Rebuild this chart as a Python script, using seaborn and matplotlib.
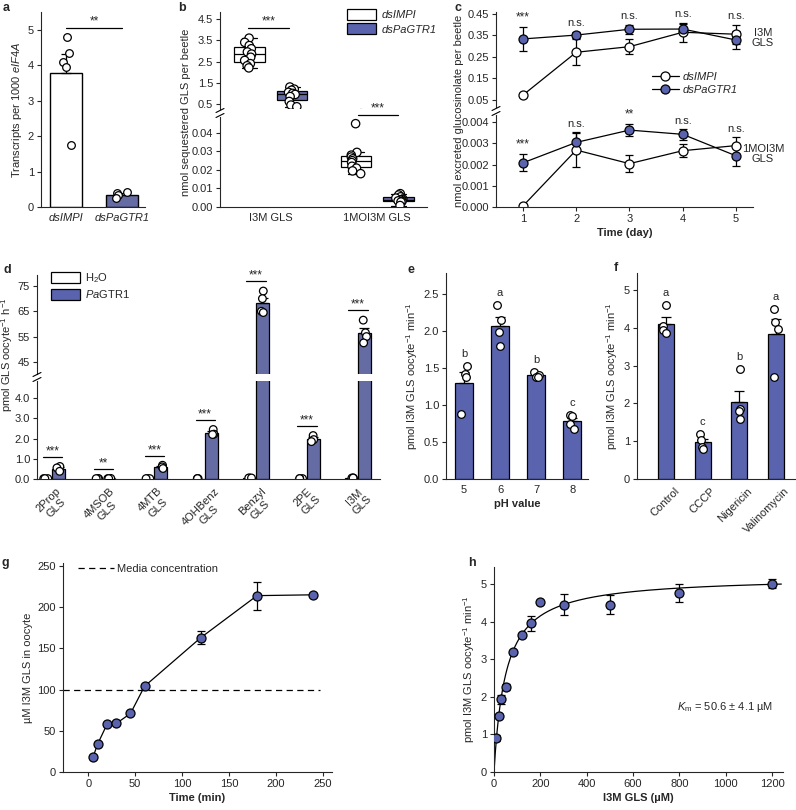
import numpy as np
import pandas as pd
import matplotlib.pyplot as plt
import seaborn as sns
from matplotlib.patches import Patch
from matplotlib.lines import Line2D
from matplotlib.transforms import ScaledTranslation

# === Data ===
BLUE = '#5A64AE'

# a: transcripts per 1000 eIF4A
a_groups = ['dsIMPI', 'dsPaGTR1']
a_dsIMPI = [4.8, 4.35, 4.1, 3.97, 1.75]
a_dsPaGTR1 = [0.43, 0.40, 0.33, 0.25]

# b: sequestered GLS per beetle
b_gls = ['I3M GLS', '1MOI3M GLS']
b_treat = ['dsIMPI', 'dsPaGTR1']
b_I3M_dsIMPI = [3.6, 3.4, 3.25, 3.1, 2.95, 2.85, 2.7, 2.55, 2.4, 2.3, 2.2]
b_I3M_dsPaGTR1 = [1.3, 1.2, 1.15, 1.05, 1.0, 0.95, 0.85, 0.62, 0.45, 0.37]
b_MOI_dsIMPI = [0.045, 0.0295, 0.028, 0.027, 0.026, 0.025, 0.024, 0.022, 0.021, 0.0195, 0.018]
b_MOI_dsPaGTR1 = [0.0072, 0.0065, 0.0055, 0.0048, 0.0043, 0.004, 0.0037, 0.0033, 0.003, 0.0027, 0.0008]

# c: excreted glucosinolate (mean, sem)
c_days = [1, 2, 3, 4, 5]
c_i3m_dsIMPI = [0.073, 0.272, 0.298, 0.365, 0.356]
c_i3m_dsIMPI_err = [0.01, 0.06, 0.035, 0.045, 0.045]
c_i3m_dsPaGTR1 = [0.334, 0.352, 0.379, 0.38, 0.329]
c_i3m_dsPaGTR1_err = [0.055, 0.015, 0.022, 0.022, 0.04]
c_moi_dsIMPI = [0.00005, 0.00268, 0.00204, 0.00265, 0.00289]
c_moi_dsIMPI_err = [0.00005, 0.0008, 0.0004, 0.0003, 0.0004]
c_moi_dsPaGTR1 = [0.00208, 0.00304, 0.00362, 0.00342, 0.00241]
c_moi_dsPaGTR1_err = [0.0004, 0.00047, 0.0003, 0.00025, 0.0005]
c_sig_i3m = ['***', 'n.s.', 'n.s.', 'n.s.', 'n.s.']
c_sig_moi = ['***', 'n.s.', '**', 'n.s.', 'n.s.']

# d: uptake of GLS in oocytes
d_substrates = ['2Prop\nGLS', '4MSOB\nGLS', '4MTB\nGLS', '4OHBenz\nGLS', 'Benzyl\nGLS', '2PE\nGLS', 'I3M\nGLS']
d_h2o = [[0.02, 0.02, 0.02], [0.02, 0.02, 0.02], [0.02, 0.02, 0.02], [0.02, 0.02, 0.02],
         [0.05, 0.05, 0.05], [0.02, 0.02, 0.02], [0.05, 0.05, 0.05]]
d_pagtr1 = [[0.62, 0.55, 0.38], [0.03, 0.02, 0.02], [0.68, 0.6, 0.52], [2.45, 2.22, 2.2],
            [73.0, 70.0, 65.0, 64.5], [2.15, 1.95, 1.85], [61.5, 56.5, 55.0, 52.5]]
d_sig = ['***', '**', '***', '***', '***', '***', '***']

# e: pH dependence
e_ph = ['5', '6', '7', '8']
e_rates = [[1.52, 1.42, 1.37, 0.88], [2.35, 2.14, 1.98, 1.8], [1.44, 1.41, 1.38, 1.37], [0.87, 0.85, 0.74, 0.67]]
e_letters = ['b', 'a', 'b', 'c']

# f: ionophores
f_treat = ['Control', 'CCCP', 'Nigericin', 'Valinomycin']
f_rates = [[4.6, 4.05, 3.95, 3.85], [1.2, 1.02, 0.85, 0.8], [2.9, 1.85, 1.8, 1.6], [4.5, 4.15, 3.98, 2.7]]
f_letters = ['a', 'c', 'b', 'a']

# g: time course
g_time = [5, 10, 20, 30, 45, 60, 120, 180, 240]
g_conc = [18, 34, 58, 59, 71, 104, 163, 214, 215]
g_err = [0, 0, 0, 0, 0, 0, 8, 17, 2]
g_media = 100

# h: kinetics
h_conc = [10, 20, 30, 50, 80, 120, 160, 200, 300, 500, 800, 1200]
h_rate = [0.91, 1.48, 1.93, 2.27, 3.18, 3.63, 3.96, 4.52, 4.45, 4.45, 4.76, 5.0]
h_err = [0.08, 0.05, 0.12, 0.08, 0.05, 0.05, 0.2, 0.03, 0.28, 0.25, 0.24, 0.12]
h_vmax = 5.2
h_km = 50.6

# === Style ===
FS = 8
sns.set_style('ticks')
plt.rcParams['font.family'] = ['Liberation Sans', 'DejaVu Sans']
plt.rcParams.update({
    'mathtext.fontset': 'custom',
    'mathtext.rm': 'Liberation Sans',
    'mathtext.it': 'Liberation Sans:italic',
    'mathtext.bf': 'Liberation Sans:bold',
    'font.size': FS,
    'axes.linewidth': 0.8,
    'axes.labelsize': FS,
    'xtick.labelsize': FS, 'ytick.labelsize': FS,
    'xtick.major.width': 0.8, 'ytick.major.width': 0.8,
    'xtick.major.size': 3, 'ytick.major.size': 3,
    'xtick.major.pad': 2, 'ytick.major.pad': 2,
    'axes.labelpad': 3,
})

W, H = 796, 810
fig = plt.figure(figsize=(W / 100, H / 100), dpi=100)


def fx(px):
    return px / W


def fy(py):
    return 1 - py / H


def add_ax(l, t, r, b):
    ax = fig.add_axes([fx(l), fy(b), (r - l) / W, (b - t) / H])
    sns.despine(ax=ax)
    return ax


def draw_break(x_px, y_px):
    for dy in (-2.5, 2.5):
        fig.add_artist(Line2D([fx(x_px - 4), fx(x_px + 4)],
                              [fy(y_px + dy + 2), fy(y_px + dy - 2)], color='black', lw=0.8))


def up_errors(ax, df, cat, val, order, pos):
    st = df.groupby(cat)[val].agg(['mean', 'sem']).reindex(order)
    ax.errorbar(pos, st['mean'], yerr=[np.zeros(len(st)), st['sem']], fmt='none',
                ecolor='black', elinewidth=0.9, capsize=3.5, capthick=0.9, zorder=3)
    return st


def long_df(cats, values, cat_name, val_name):
    rows = [(c, v) for c, vs in zip(cats, values) for v in vs]
    return pd.DataFrame(rows, columns=[cat_name, val_name])


def panel_letter(x, y, s):
    fig.text(fx(x), fy(y), s, fontsize=9, fontweight='bold', ha='left', va='center')


np.random.seed(3)
pt_kw = dict(color='white', edgecolor='black', linewidth=0.9, size=5.5, zorder=4)

# === a ===
a_df = long_df(a_groups, [a_dsIMPI, a_dsPaGTR1], 'group', 'value')
ax = add_ax(41, 12, 145, 207)
sns.barplot(data=a_df, x='group', y='value', hue='group', order=a_groups, hue_order=a_groups,
            palette=['white', BLUE], errorbar=None, width=0.57, edgecolor='black', linewidth=1,
            legend=False, ax=ax)
up_errors(ax, a_df, 'group', 'value', a_groups, range(2))
sns.stripplot(data=a_df, x='group', y='value', order=a_groups, jitter=0.12, ax=ax, **pt_kw)
ax.set_xlim(-0.45, 1.41)
ax.set_ylim(0, 5.51)
ax.set_yticks(range(6))
ax.set_xticks(range(2))
ax.set_xticklabels(a_groups, style='italic')
ax.tick_params(axis='x', length=0, pad=4)
ax.set_xlabel('')
ax.set_ylabel('Transcripts per 1000 $\\mathit{eIF4A}$')
ax.plot([0, 1], [5.06, 5.06], color='black', lw=0.9)
ax.text(0.5, 5.08, '**', ha='center', va='bottom', fontsize=8.5)
panel_letter(3, 8, 'a')

# === b ===
b_df = pd.concat([
    pd.DataFrame({'gls': g, 'treatment': t, 'amount': v})
    for g, t, v in [(b_gls[0], b_treat[0], b_I3M_dsIMPI), (b_gls[0], b_treat[1], b_I3M_dsPaGTR1),
                    (b_gls[1], b_treat[0], b_MOI_dsIMPI), (b_gls[1], b_treat[1], b_MOI_dsPaGTR1)]
], ignore_index=True)
ax_bt = add_ax(220, 12, 427, 109)
ax_bb = add_ax(220, 117, 427, 207)
for ax in (ax_bt, ax_bb):
    sns.boxplot(data=b_df, x='gls', y='amount', hue='treatment', order=b_gls, hue_order=b_treat,
                palette={'dsIMPI': 'white', 'dsPaGTR1': BLUE}, gap=0.28, showfliers=False,
                linecolor='black', linewidth=0.9, legend=False, ax=ax)
    sns.stripplot(data=b_df, x='gls', y='amount', hue='treatment', order=b_gls, hue_order=b_treat,
                  palette={'dsIMPI': 'white', 'dsPaGTR1': 'white'}, dodge=True, jitter=0.1,
                  edgecolor='black', linewidth=0.9, size=6, legend=False, zorder=4, ax=ax)
    ax.set_xlim(-0.48, 1.47)
    ax.set_xlabel('')
    ax.set_ylabel('')
ax_bt.set_ylim(0.265, 4.83)
ax_bt.set_yticks([0.5, 1.5, 2.5, 3.5, 4.5])
ax_bt.spines['bottom'].set_visible(False)
ax_bt.tick_params(axis='x', bottom=False, labelbottom=False)
ax_bb.set_ylim(0, 0.0486)
ax_bb.set_yticks([0, 0.01, 0.02, 0.03, 0.04])
ax_bb.yaxis.set_major_formatter('{x:.2f}')
ax_bb.set_xticks(range(2))
ax_bb.set_xticklabels(b_gls)
ax_bb.tick_params(axis='x', length=0, pad=4)
draw_break(220, 113)
fig.text(fx(186), fy(112), 'nmol sequestered GLS per beetle', rotation=90, ha='center', va='center')
ax_bt.plot([-0.22, 0.17], [4.08, 4.08], color='black', lw=0.9)
ax_bt.text(-0.02, 4.1, '***', ha='center', va='bottom', fontsize=8.5)
ax_bb.plot([0.82, 1.2], [0.0497, 0.0497], color='black', lw=0.9, clip_on=False)
ax_bb.text(1.01, 0.0499, '***', ha='center', va='bottom', fontsize=8.5, clip_on=False)
ax_bt.legend(handles=[Patch(facecolor='white', edgecolor='black', lw=0.9, label='dsIMPI'),
                      Patch(facecolor=BLUE, edgecolor='black', lw=0.9, label='dsPaGTR1')],
             loc='upper left', bbox_to_anchor=(fx(347), fy(9)), bbox_transform=fig.transFigure,
             frameon=False, prop={'style': 'italic', 'size': FS}, handlelength=2.6, handleheight=1.1,
             handletextpad=0.5, labelspacing=0.3, borderpad=0, borderaxespad=0)
panel_letter(178, 8, 'b')

# === c ===
ax_ct = add_ax(496, 12, 753, 107)
ax_cb = add_ax(496, 115, 753, 207)
c_sets = [
    (ax_ct, c_i3m_dsIMPI, c_i3m_dsIMPI_err, c_i3m_dsPaGTR1, c_i3m_dsPaGTR1_err, c_sig_i3m),
    (ax_cb, c_moi_dsIMPI, c_moi_dsIMPI_err, c_moi_dsPaGTR1, c_moi_dsPaGTR1_err, c_sig_moi),
]
for ax, w, we, b, be, sig in c_sets:
    for vals, errs, face in ((w, we, 'white'), (b, be, BLUE)):
        ax.errorbar(c_days, vals, yerr=errs, fmt='none', ecolor='black', elinewidth=0.9,
                    capsize=2.8, capthick=0.9, zorder=1.5)
        sns.lineplot(x=c_days, y=vals, color='black', lw=0.9, marker='o', markersize=6.5,
                     markerfacecolor=face, markeredgecolor='black', markeredgewidth=0.9, ax=ax)
    tops = np.maximum(np.add(w, we), np.add(b, be))
    for d, t, s in zip(c_days, tops, sig):
        ax.annotate(s, (d, t), xytext=(0, 2.5), textcoords='offset points', ha='center', va='bottom',
                    fontsize=FS if s == 'n.s.' else 8.5, annotation_clip=False)
    ax.set_xlim(0.493, 5.32)
ax_ct.set_ylim(0.0174, 0.4593)
ax_ct.set_yticks([0.05, 0.15, 0.25, 0.35, 0.45])
ax_ct.yaxis.set_major_formatter('{x:.2f}')
ax_ct.spines['bottom'].set_visible(False)
ax_ct.tick_params(axis='x', bottom=False, labelbottom=False)
ax_cb.set_ylim(0, 0.00433)
ax_cb.set_yticks([0, 0.001, 0.002, 0.003, 0.004])
ax_cb.yaxis.set_major_formatter('{x:.3f}')
ax_cb.set_xticks(c_days)
ax_cb.set_xlabel('Time (day)', fontweight='bold')
draw_break(496, 111)
fig.text(fx(459), fy(111), 'nmol excreted glucosinolate per beetle', rotation=90, ha='center', va='center')
fig.text(fx(763), fy(38), 'I3M\nGLS', ha='center', va='center', linespacing=0.95)
fig.text(fx(763), fy(154), '1MOI3M\nGLS', ha='center', va='center', linespacing=0.95)
mk = dict(color='black', lw=0.9, marker='o', markersize=6.5, markeredgecolor='black', markeredgewidth=0.9)
ax_ct.legend(handles=[Line2D([], [], markerfacecolor='white', label='dsIMPI', **mk),
                      Line2D([], [], markerfacecolor=BLUE, label='dsPaGTR1', **mk)],
             loc='upper left', bbox_to_anchor=(fx(652), fy(72)), bbox_transform=fig.transFigure,
             frameon=False, prop={'style': 'italic', 'size': FS}, handlelength=2.4,
             handletextpad=0.4, labelspacing=0.3, borderpad=0, borderaxespad=0)
panel_letter(455, 8, 'c')

# === d ===
d_df = pd.concat([
    long_df(d_substrates, d_h2o, 'substrate', 'rate').assign(treatment='H2O'),
    long_df(d_substrates, d_pagtr1, 'substrate', 'rate').assign(treatment='PaGTR1'),
], ignore_index=True)
d_idx = {s: i for i, s in enumerate(d_substrates)}
d_df['pos'] = d_df['substrate'].map(d_idx) + np.where(d_df['treatment'] == 'H2O', -0.125, 0.125)
ax_dt = add_ax(37, 275, 380, 374)
ax_db = add_ax(37, 381, 380, 479)
d_pal = {'H2O': 'white', 'PaGTR1': BLUE}
for ax in (ax_dt, ax_db):
    sns.barplot(data=d_df, x='substrate', y='rate', hue='treatment', order=d_substrates,
                hue_order=['H2O', 'PaGTR1'], palette=d_pal, width=0.5, errorbar=None,
                edgecolor='black', linewidth=0.9, legend=False, ax=ax)
    up_errors(ax, d_df[d_df['treatment'] == 'PaGTR1'], 'substrate', 'rate', d_substrates,
              np.arange(len(d_substrates)) + 0.125)
    sns.stripplot(data=d_df, x='pos', y='rate', hue='treatment', native_scale=True, orient='x',
                  palette={'H2O': 'white', 'PaGTR1': 'white'}, jitter=0.2, edgecolor='black',
                  linewidth=0.9, size=5.5, legend=False, zorder=4, ax=ax)
    ax.set_xlim(-0.30, 6.43)
    ax.set_xlabel('')
    ax.set_ylabel('')
ax_dt.set_ylim(40.2, 79.35)
ax_dt.set_yticks([45, 55, 65, 75])
ax_dt.spines['bottom'].set_visible(False)
ax_dt.tick_params(axis='x', bottom=False, labelbottom=False)
ax_db.set_ylim(0, 4.85)
ax_db.set_yticks([0, 1, 2, 3, 4])
ax_db.yaxis.set_major_formatter('{x:.1f}')
ax_db.set_xticks(range(len(d_substrates)))
ax_db.set_xticklabels(d_substrates, rotation=45, ha='center', va='top', multialignment='center')
ax_db.tick_params(axis='x', length=0, pad=5)
d_tops = d_df.groupby('substrate')['rate'].max().reindex(d_substrates)
for i, (s, t) in enumerate(zip(d_sig, d_tops)):
    ax, off = (ax_dt, 4.0) if t > 40 else (ax_db, 0.45)
    ax.plot([i - 0.19, i + 0.19], [t + off, t + off], color='black', lw=0.9, clip_on=False)
    ax.text(i, t + off, s, ha='center', va='bottom', fontsize=8.5, clip_on=False)
draw_break(37, 377)
fig.text(fx(7), fy(355), 'pmol GLS oocyte$^{-1}$ h$^{-1}$', rotation=90, ha='center', va='center')
ax_dt.legend(handles=[Patch(facecolor='white', edgecolor='black', lw=0.9, label='H$_2$O'),
                      Patch(facecolor=BLUE, edgecolor='black', lw=0.9, label='$\\mathit{Pa}$GTR1')],
             loc='upper left', bbox_to_anchor=(fx(51), fy(271)), bbox_transform=fig.transFigure,
             frameon=False, prop={'size': FS}, handlelength=2.6, handleheight=1.1,
             handletextpad=0.5, labelspacing=0.3, borderpad=0, borderaxespad=0)
panel_letter(3, 270, 'd')


# === e and f ===
def letter_bar_panel(ax, cats, values, letters, width, cname):
    df = long_df(cats, values, cname, 'rate')
    sns.barplot(data=df, x=cname, y='rate', order=cats, color=BLUE, errorbar=None, width=width,
                edgecolor='black', linewidth=0.9, saturation=1, ax=ax)
    st = up_errors(ax, df, cname, 'rate', cats, range(len(cats)))
    sns.stripplot(data=df, x=cname, y='rate', order=cats, jitter=0.08, ax=ax, **pt_kw)
    tops = np.maximum(df.groupby(cname)['rate'].max().reindex(cats), st['mean'] + st['sem'])
    for i, (t, s) in enumerate(zip(tops, letters)):
        ax.annotate(s, (i, t), xytext=(0, 5), textcoords='offset points', ha='center', va='bottom')
    ax.tick_params(axis='x', length=0, pad=4)
    ax.set_ylabel('pmol I3M GLS oocyte$^{-1}$ min$^{-1}$')


ax_e = add_ax(446, 273, 588, 479)
letter_bar_panel(ax_e, e_ph, e_rates, e_letters, 0.48, 'pH')
ax_e.set_xlim(-0.5, 3.44)
ax_e.set_ylim(0, 2.78)
ax_e.set_yticks([0, 0.5, 1.0, 1.5, 2.0, 2.5])
ax_e.yaxis.set_major_formatter('{x:.1f}')
ax_e.set_xlabel('pH value', fontweight='bold')
panel_letter(408, 270, 'e')

ax_f = add_ax(637, 273, 795, 479)
letter_bar_panel(ax_f, f_treat, f_rates, f_letters, 0.44, 'treatment')
ax_f.set_xlim(-0.79, 3.52)
ax_f.set_ylim(0, 5.45)
ax_f.set_yticks(range(6))
ax_f.set_xticks(range(4))
ax_f.set_xticklabels(f_treat, rotation=45, ha='right', va='top', rotation_mode='anchor')
ax_f.tick_params(axis='x', pad=5)
shift = ScaledTranslation(0.08, 0, fig.dpi_scale_trans)
for lbl in ax_f.get_xticklabels():
    lbl.set_transform(lbl.get_transform() + shift)
ax_f.set_xlabel('')
panel_letter(614, 268, 'f')

# === g ===
ax_g = add_ax(63, 563, 332, 772)
ax_g.errorbar(g_time, g_conc, yerr=g_err, fmt='none', ecolor='black', elinewidth=0.9,
              capsize=3, capthick=0.9, zorder=1.5)
sns.lineplot(x=g_time, y=g_conc, color='black', lw=0.9, marker='o', markersize=6.5,
             markerfacecolor=BLUE, markeredgecolor='black', markeredgewidth=0.9, ax=ax_g)
ax_g.hlines(g_media, -27, 247, colors='black', linestyles=(0, (5, 3.5)), lw=0.9)
ax_g.set_xlim(-27, 260)
ax_g.set_ylim(0, 253.6)
ax_g.set_xticks(range(0, 251, 50))
ax_g.set_yticks(range(0, 251, 50))
ax_g.set_xlabel('Time (min)', fontweight='bold')
ax_g.set_ylabel('µM I3M GLS in oocyte')
ax_g.legend(handles=[Line2D([], [], color='black', lw=0.9, ls=(0, (5, 3.5)), label='Media concentration')],
            loc='upper left', bbox_to_anchor=(fx(78), fy(564)), bbox_transform=fig.transFigure,
            frameon=False, prop={'size': FS}, handlelength=3.2, handletextpad=0.3,
            borderpad=0, borderaxespad=0)
panel_letter(2, 563, 'g')

# === h ===
ax_h = add_ax(494, 567, 783, 772)
h_fit_x = np.linspace(0, 1240, 400)
sns.lineplot(x=h_fit_x, y=h_vmax * h_fit_x / (h_km + h_fit_x), color='black', lw=0.9, ax=ax_h)
ax_h.errorbar(h_conc, h_rate, yerr=h_err, fmt='none', ecolor='black', elinewidth=0.9,
              capsize=3, capthick=0.9, zorder=2.5)
sns.scatterplot(x=h_conc, y=h_rate, color=BLUE, edgecolor='black', linewidth=0.9, s=42, zorder=3, ax=ax_h)
ax_h.set_xlim(0, 1247)
ax_h.set_ylim(0, 5.45)
ax_h.set_xticks(range(0, 1201, 200))
ax_h.set_yticks(range(6))
ax_h.set_xlabel('I3M GLS (µM)', fontweight='bold')
ax_h.set_ylabel('pmol I3M GLS oocyte$^{-1}$ min$^{-1}$')
ax_h.text(790, 1.73, '$\\mathit{K}_\\mathrm{m}$ = 50.6 ± 4.1 µM', ha='left', va='center')
panel_letter(468, 563, 'h')

plt.savefig('out.png', dpi=100)
